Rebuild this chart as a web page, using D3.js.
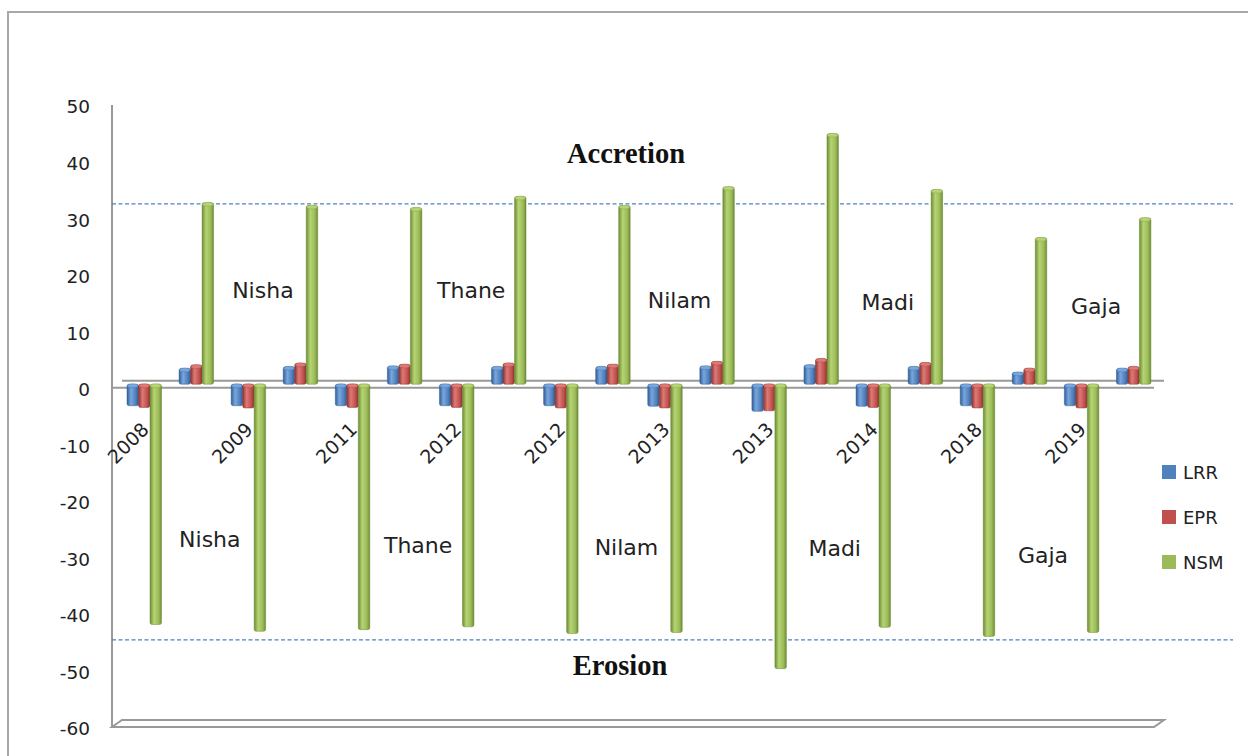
<!DOCTYPE html>
<html>
<head>
<meta charset="utf-8">
<script src="https://d3js.org/d3.v7.min.js"></script>
<style>
  body { margin: 0; background: #fff; }
  svg { display: block; }
  .tick text { font-family: "DejaVu Sans", sans-serif; font-size: 18.5px; fill: #222; }
</style>
</head>
<body>
<svg width="1248" height="756"></svg>
<script>
// groepen: erosie (met jaartal) en accretie wisselen elkaar af
var groupLabels = ["2008", "", "2009", "", "2011", "", "2012", "", "2012", "",
                   "2013", "", "2013", "", "2014", "", "2018", "", "2019", ""];
var lrr = [-3.8, 2.8, -3.8, 3.1, -3.8, 3.2, -3.8, 3.1, -3.8, 3.1,
           -3.9, 3.2, -4.8, 3.4, -3.9, 3.1, -3.8, 2.1, -3.8, 2.8];
var epr = [-4.1, 3.4, -4.2, 3.7, -4.1, 3.5, -4.1, 3.7, -4.2, 3.5,
           -4.2, 4.0, -4.7, 4.5, -4.1, 3.8, -4.2, 2.8, -4.2, 3.1];
var nsm = [-42.5, 32.1, -43.7, 31.6, -43.4, 31.2, -42.9, 33.2, -44.1, 31.6,
           -43.9, 34.9, -50.3, 44.3, -43.0, 34.4, -44.6, 25.9, -43.9, 29.4];
var seriesNames = ["LRR", "EPR", "NSM"];
var cyclones = ["Nisha", "Thane", "Nilam", "Madi", "Gaja"];
var yTicks = [50, 40, 30, 20, 10, 0, -10, -20, -30, -40, -50, -60];
var limits = [32.5, -44.6]; // gestippelde lijnen
var topLevels = [15.9, 15.9, 14.1, 13.7, 13.0];      // hoogte namen boven
var bottomLevels = [-28.2, -29.2, -29.6, -29.8, -31.0]; // hoogte namen onder

var colors = {LRR: "#4F81BD", EPR: "#C0504D", NSM: "#9BBB59"};
var shades = {
    LRR: ["#2f5e98", "#7aa6dc"],
    EPR: ["#8e3330", "#de7a76"],
    NSM: ["#6c8c34", "#b7d474"]
};

var svg = d3.select("svg");
var depth = 3.5; // 3D verschuiving

var x = d3.scaleBand().domain(d3.range(groupLabels.length)).range([114, 1155.5]).paddingInner(0);
var xs = d3.scaleBand().domain(seriesNames).range([13, 47.5]);
var y = d3.scaleLinear().domain([-60, 50]).range([727, 105]);

// kader rond de grafiek
svg.append("rect")
    .attr("x", 8).attr("y", 12)
    .attr("width", 1260).attr("height", 770)
    .attr("fill", "none")
    .attr("stroke", "#a8a8a8")
    .attr("stroke-width", 2);

// gradients voor de cilinders
var defs = svg.append("defs");
seriesNames.forEach(function(s) {
    var grad = defs.append("linearGradient").attr("id", "g" + s)
        .attr("x1", "0%").attr("x2", "100%").attr("y1", "0%").attr("y2", "0%");
    grad.append("stop").attr("offset", "0%").attr("stop-color", shades[s][0]);
    grad.append("stop").attr("offset", "35%").attr("stop-color", shades[s][1]);
    grad.append("stop").attr("offset", "75%").attr("stop-color", colors[s]);
    grad.append("stop").attr("offset", "100%").attr("stop-color", shades[s][0]);
});

// y-as (met gewoon koppelteken als minteken)
var yAxis = svg.append("g")
    .attr("transform", "translate(90,2)")
    .call(d3.axisLeft(y).tickValues(yTicks).tickSize(0).tickPadding(0)
        .tickFormat(function(d) { return String(d); }));
yAxis.select(".domain").remove();

svg.append("line")
    .attr("x1", 112).attr("x2", 112).attr("y1", y(50)).attr("y2", y(-60))
    .attr("stroke", "#999").attr("stroke-width", 2);

// vloer onderaan
function plane(v) {
    var y0 = y(v);
    svg.append("path")
        .attr("d", "M112," + y0 + "L122," + (y0 - 7) + "L1164," + (y0 - 7) + "L1154," + y0 + "Z")
        .attr("fill", "none").attr("stroke", "#999").attr("stroke-width", 2);
}
plane(-60);

// nullijn (achter- en voorkant)
svg.append("line")
    .attr("x1", 122).attr("x2", 1164).attr("y1", y(0) - 7).attr("y2", y(0) - 7)
    .attr("stroke", "#999").attr("stroke-width", 2);
svg.append("line")
    .attr("x1", 112).attr("x2", 1154).attr("y1", y(0)).attr("y2", y(0))
    .attr("stroke", "#999").attr("stroke-width", 2);

// gestippelde lijnen
svg.selectAll(".limit")
    .data(limits)
    .enter().append("line")
    .attr("class", "limit")
    .attr("x1", 112).attr("x2", 1233)
    .attr("y1", function(d) { return y(d); })
    .attr("y2", function(d) { return y(d); })
    .attr("stroke", "#4F81BD")
    .attr("stroke-width", 1.3)
    .attr("stroke-dasharray", "4,2.5");

// balken
var data = groupLabels.map(function(l, i) {
    return {i: i, label: l, values: [
        {s: "LRR", v: lrr[i]}, {s: "EPR", v: epr[i]}, {s: "NSM", v: nsm[i]}
    ]};
});

var groups = svg.selectAll(".group")
    .data(data)
    .enter().append("g")
    .attr("class", "group")
    .attr("transform", function(d) { return "translate(" + x(d.i) + "," + (-depth) + ")"; });

var bars = groups.selectAll(".bar")
    .data(function(d) { return d.values; })
    .enter().append("g")
    .attr("class", "bar");

bars.append("rect")
    .attr("x", function(d) { return xs(d.s); })
    .attr("width", xs.bandwidth())
    .attr("y", function(d) { return Math.min(y(0), y(d.v)); })
    .attr("height", function(d) { return Math.abs(y(d.v) - y(0)); })
    .attr("rx", 2)
    .attr("fill", function(d) { return "url(#g" + d.s + ")"; })
    .attr("stroke", function(d) { return shades[d.s][0]; })
    .attr("stroke-opacity", 0.6)
    .attr("stroke-width", 0.8);

// bovenkant cilinder
bars.append("ellipse")
    .attr("cx", function(d) { return xs(d.s) + xs.bandwidth() / 2; })
    .attr("cy", function(d) { return Math.min(y(0), y(d.v)) + 1.5; })
    .attr("rx", xs.bandwidth() / 2 - 0.5)
    .attr("ry", 2)
    .attr("fill", function(d) { return shades[d.s][1]; })
    .attr("stroke", function(d) { return shades[d.s][0]; })
    .attr("stroke-opacity", 0.5)
    .attr("stroke-width", 0.6);

// jaartallen onder de erosie groepen
svg.selectAll(".year")
    .data(data.filter(function(d) { return d.label !== ""; }))
    .enter().append("text")
    .attr("class", "year")
    .attr("transform", function(d) { return "translate(" + (x(d.i) + 36) + "," + (y(0) + 43) + ") rotate(-45)"; })
    .attr("text-anchor", "end")
    .attr("font-family", "DejaVu Sans, sans-serif")
    .attr("font-size", 19)
    .attr("fill", "#222")
    .text(function(d) { return d.label; });

// namen van de cyclonen
function nsmX(i) { return x(i) + xs("NSM") + xs.bandwidth() / 2; }

svg.selectAll(".nameTop")
    .data(cyclones)
    .enter().append("text")
    .attr("class", "nameTop")
    .attr("x", function(d, k) { return (nsmX(4 * k + 1) + nsmX(4 * k + 3)) / 2 + 3; })
    .attr("y", function(d, k) { return y(topLevels[k]); })
    .attr("text-anchor", "middle")
    .attr("font-family", "DejaVu Sans, sans-serif")
    .attr("font-size", 22)
    .attr("fill", "#222")
    .text(function(d) { return d; });

svg.selectAll(".nameBottom")
    .data(cyclones)
    .enter().append("text")
    .attr("class", "nameBottom")
    .attr("x", function(d, k) { return (nsmX(4 * k) + nsmX(4 * k + 2)) / 2 + 2; })
    .attr("y", function(d, k) { return y(bottomLevels[k]); })
    .attr("text-anchor", "middle")
    .attr("font-family", "DejaVu Sans, sans-serif")
    .attr("font-size", 22)
    .attr("fill", "#222")
    .text(function(d) { return d; });

// Accretion / Erosion
svg.append("text")
    .attr("x", 626).attr("y", y(39.7))
    .attr("text-anchor", "middle")
    .attr("font-family", "Liberation Serif, serif")
    .attr("font-weight", "bold")
    .attr("font-size", 28.5)
    .attr("fill", "#111")
    .text("Accretion");

svg.append("text")
    .attr("x", 620).attr("y", y(-50.8))
    .attr("text-anchor", "middle")
    .attr("font-family", "Liberation Serif, serif")
    .attr("font-weight", "bold")
    .attr("font-size", 28.5)
    .attr("fill", "#111")
    .text("Erosion");

// legenda
var legend = svg.selectAll(".legend")
    .data(seriesNames)
    .enter().append("g")
    .attr("class", "legend")
    .attr("transform", function(d, i) { return "translate(1162," + (465 + i * 45) + ")"; });

legend.append("rect")
    .attr("width", 14).attr("height", 14)
    .attr("fill", function(d) { return colors[d]; });

legend.append("text")
    .attr("x", 21).attr("y", 14)
    .attr("font-family", "DejaVu Sans, sans-serif")
    .attr("font-size", 18)
    .attr("fill", "#222")
    .text(function(d) { return d; });
</script>
</body>
</html>
